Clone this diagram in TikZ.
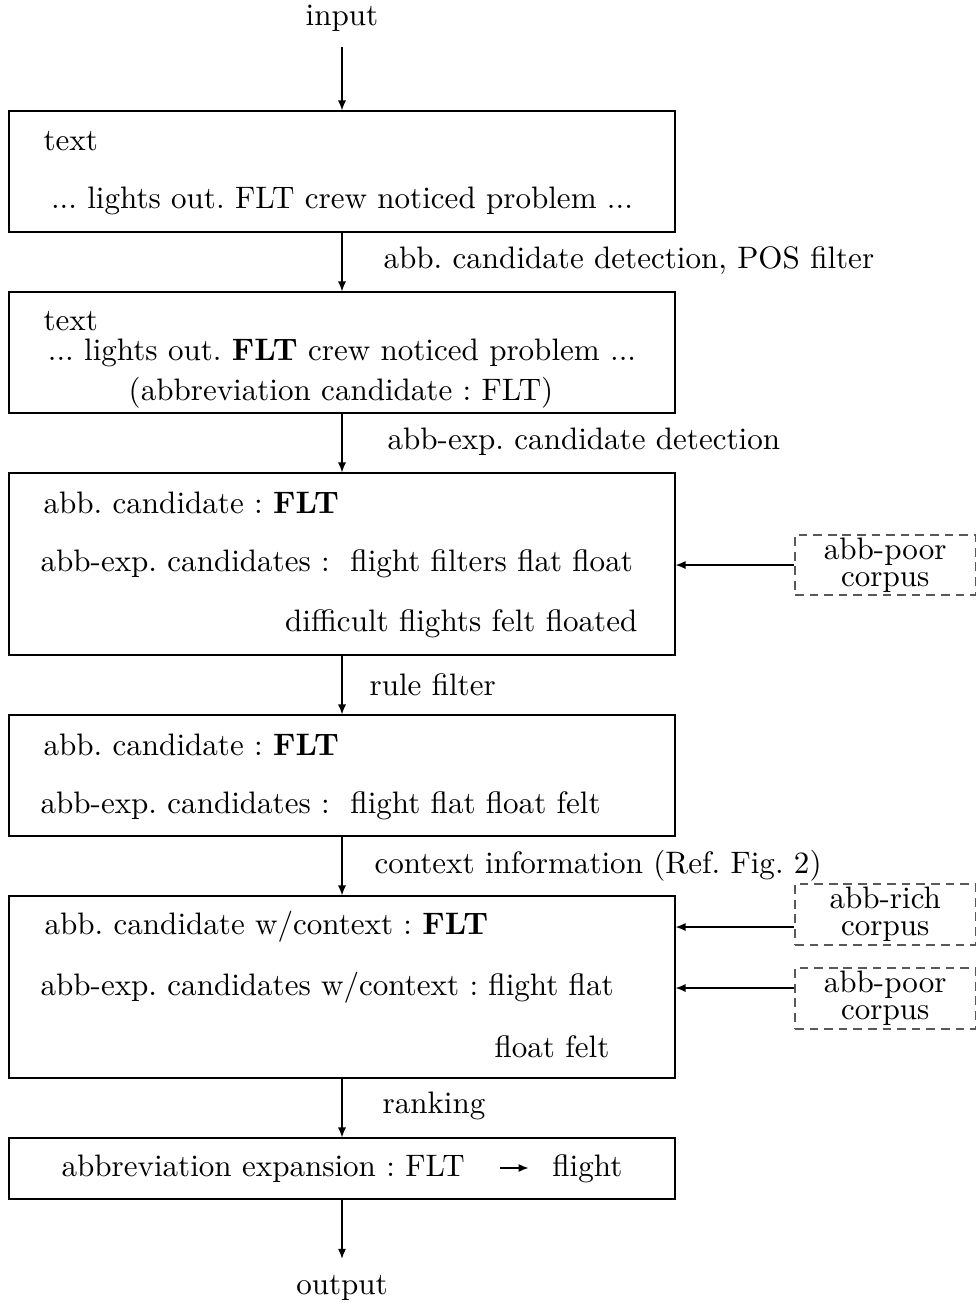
\documentclass[tikz,border=0pt]{standalone}
\usetikzlibrary{arrows.meta,fit}
\frenchspacing
\tikzset{
  stage/.style={draw=black, line width=0.4pt, inner sep=0pt},
  corpus/.style={draw=black!65, dash pattern=on 2.8pt off 1.9pt, line width=0.4pt, inner sep=0pt},
  corpustext/.style={align=center, inner sep=0pt},
  txt/.style={inner sep=0pt},
  arr/.style={-{Latex[length=3.2pt,width=2.6pt]}, line width=0.4pt},
}
\begin{document}
\begin{tikzpicture}[x=0.322pt, y=-0.322pt]
\useasboundingbox (0,0) rectangle (977,1304);

% end labels
\node[txt, anchor=base] (in) at (342,25) {input};
\node[txt, anchor=base] (out) at (342,1294) {output};

% stage boxes
\node[stage, fit={(9,111) (675,232)}] (b1) {};
\node[stage, fit={(9,292) (675,413)}] (b2) {};
\node[stage, fit={(9,473) (675,655)}] (b3) {};
\node[stage, fit={(9,715) (675,836)}] (b4) {};
\node[stage, fit={(9,896) (675,1078)}] (b5) {};
\node[stage, fit={(9,1138) (675,1199)}] (b6) {};

% corpus boxes
\node[corpus, fit={(795,535) (975.5,595)}] (poorA) {};
\node[corpustext] (poorAt) at (poorA.center) {abb-poor\\[-3.3pt]corpus};
\node[corpus, fit={(795,884) (975.5,945)}] (rich) {};
\node[corpustext] (richt) at (rich.center) {abb-rich\\[-3.3pt]corpus};
\node[corpus, fit={(795,968) (975.5,1029)}] (poorB) {};
\node[corpustext] (poorBt) at (poorB.center) {abb-poor\\[-3.3pt]corpus};

% box 1
\node[txt, anchor=base west] (t1a) at (43,150) {text};
\node[txt, anchor=base] (t1b) at (342,208) {... lights out. FLT crew noticed problem ...};

% box 2
\node[txt, anchor=base west] (t2a) at (43,330) {text};
\node[txt, anchor=base] (t2b) at (342,360) {... lights out. \textbf{FLT} crew noticed problem ...};
\node[txt, anchor=base] (t2c) at (341,400) {(abbreviation candidate : FLT)};

% box 3
\node[txt, anchor=base west] (t3a) at (43,513) {abb. candidate : \textbf{FLT}};
\node[txt, anchor=base west] (t3b) at (40,571) {abb-exp. candidates :~~flight filters flat float};
\node[txt, anchor=base east] (t3c) at (638,631) {difficult flights felt floated};

% box 4
\node[txt, anchor=base west] (t4a) at (43,755) {abb. candidate : \textbf{FLT}};
\node[txt, anchor=base west] (t4b) at (40,813) {abb-exp. candidates :~~flight flat float felt};

% box 5
\node[txt, anchor=base west] (t5a) at (44,934) {abb. candidate w/context : \textbf{FLT}};
\node[txt, anchor=base west] (t5b) at (40,995) {abb-exp. candidates w/context : flight flat};
\node[txt, anchor=base east] (t5c) at (610,1057) {float felt};

% box 6
\node[txt, anchor=base] (t6) at (342,1176) {abbreviation expansion : FLT\hspace{11pt}%
  \tikz[baseline=-0.6ex]\draw[arr] (0,0) -- (9.3pt,0);\hspace{7.5pt}flight};

% step labels
\node[txt, anchor=base west] (l1) at (383,268) {abb. candidate detection, POS filter};
\node[txt, anchor=base west] (l2) at (387,449) {abb-exp. candidate detection};
\node[txt, anchor=base west] (l3) at (369,695) {rule filter};
\node[txt, anchor=base west] (l4) at (374,873) {context information (Ref. Fig. 2)};
\node[txt, anchor=base west] (l5) at (382,1113) {ranking};

% main flow
\draw[arr] ([yshift=-5pt]in.south) -- (b1.north);
\draw[arr] (b1.south) -- (b2.north);
\draw[arr] (b2.south) -- (b3.north);
\draw[arr] (b3.south) -- (b4.north);
\draw[arr] (b4.south) -- (b5.north);
\draw[arr] (b5.south) -- (b6.north);
\draw[arr] (b6.south) -- ([yshift=5pt]out.north);

% corpus inputs
\coordinate (ya) at (0,565);
\coordinate (yb) at (0,927);
\coordinate (yc) at (0,988);
\draw[arr] (poorA.west |- ya) -- (b3.east |- ya);
\draw[arr] (rich.west |- yb) -- (b5.east |- yb);
\draw[arr] (poorB.west |- yc) -- (b5.east |- yc);
\end{tikzpicture}
\end{document}
